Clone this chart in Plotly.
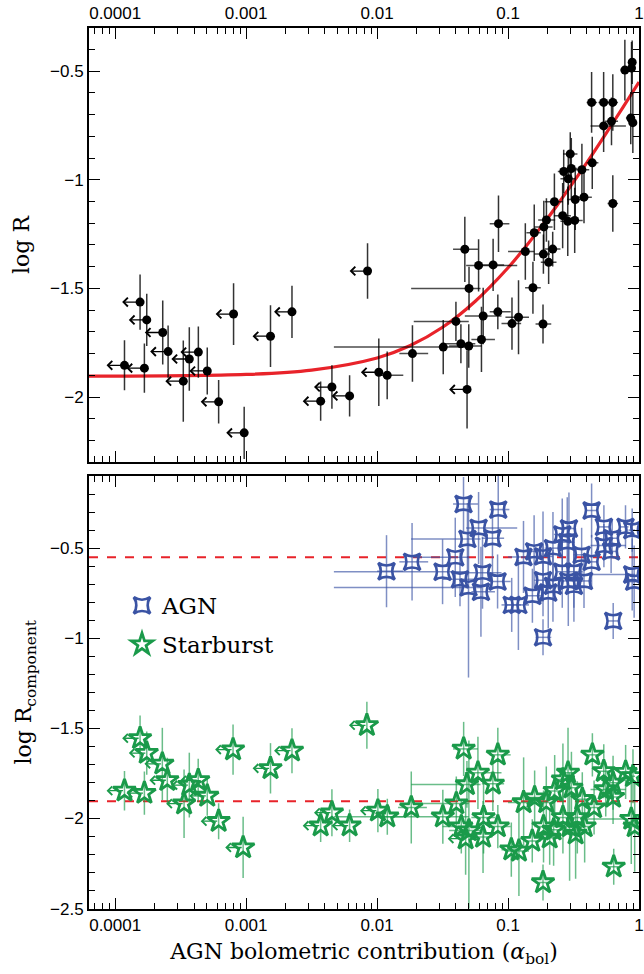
import numpy as np
import plotly.graph_objects as go

# ---------------- data (log10 alpha_bol, log R) ----------------
# Top panel: upper limits on alpha (left arrows)
lim_la = [-3.929, -3.81, -3.759, -3.777, -3.637, -3.596, -3.48, -3.434, -3.365, -3.297,
          -3.21, -3.015, -3.096, -2.814, -2.65, -2.431, -2.345, -2.21, -2.073, -1.987, -1.313]
lim_lr = [-1.854, -1.563, -1.645, -1.867, -1.703, -1.791, -1.927, -1.825, -1.793, -1.88,
          -2.022, -2.165, -1.618, -1.72, -1.608, -2.019, -1.954, -1.995, -1.42, -1.886, -1.965]
lim_ye = [0.115, 0.127, 0.12, 0.113, 0.147, 0.12, 0.187, 0.146, 0.118, 0.108,
          0.1, 0.12, 0.142, 0.142, 0.12, 0.09, 0.1, 0.095, 0.128, 0.155, 0.18]

# Top panel: detections
det_la = [-1.923, -1.73, -1.495, -1.36, -1.30, -1.398, -1.298, -1.33, -1.225, -1.114,
          -1.19, -1.203, -1.078, -0.97, -0.92, -0.81, -0.733, -0.868, -0.80, -0.727,
          -0.707, -0.73, -0.659, -0.69, -0.646, -0.583, -0.544, -0.491, -0.487, -0.42,
          -0.575, -0.54, -0.517, -0.525, -0.436, -0.357, -0.20, -0.362, -0.27, -0.20,
          -0.27, -0.21, -0.063, -0.047, -0.108, -0.057, -0.052, -1.073]
det_lr = [-1.90, -1.80, -1.77, -1.755, -1.765, -1.652, -1.50, -1.32, -1.394, -1.392,
          -1.627, -1.735, -1.608, -1.662, -1.633, -1.497, -1.664, -1.33, -1.244, -1.217,
          -1.185, -1.342, -1.319, -1.38, -1.101, -1.165, -1.191, -1.187, -1.091, -1.08,
          -0.962, -0.995, -0.948, -0.881, -0.954, -0.922, -1.109, -0.644, -0.644, -0.644,
          -0.752, -0.731, -0.716, -0.737, -0.495, -0.486, -0.459, -1.202]
det_xlo = [-1.99, -1.83, -2.33, -1.50, -1.45, -1.72, -1.74, -1.42, -1.32, -1.20,
           -1.33, -1.28, -1.14, -1.05, -1.02, -0.87, -0.79, -1.00, -0.86, -0.80,
           -0.77, -0.80, -0.72, -0.75, -0.72, -0.65, -0.60, -0.55, -0.55, -0.48,
           -0.62, -0.60, -0.57, -0.58, -0.50, -0.40, -0.24, -0.40, -0.31, -0.24,
           -0.37, -0.26, -0.10, -0.08, -0.14, -0.08, -0.07, -1.14]
det_xhi = [-1.80, -1.61, -1.30, -1.25, -1.20, -1.30, -1.21, -1.23, -0.93, -1.03,
           -1.05, -1.10, -0.98, -0.90, -0.84, -0.75, -0.67, -0.80, -0.75, -0.66,
           -0.64, -0.68, -0.60, -0.63, -0.58, -0.52, -0.48, -0.43, -0.43, -0.36,
           -0.53, -0.49, -0.47, -0.47, -0.38, -0.31, -0.16, -0.32, -0.23, -0.16,
           -0.10, -0.16, -0.03, -0.02, -0.08, -0.03, -0.03, -0.99]
det_ye = [0.11, 0.13, 0.125, 0.09, 0.10, 0.09, 0.10, 0.15, 0.12, 0.12,
          0.13, 0.15, 0.08, 0.12, 0.17, 0.12, 0.09, 0.13, 0.13, 0.12,
          0.10, 0.09, 0.08, 0.10, 0.13, 0.15, 0.16, 0.15, 0.14, 0.12,
          0.10, 0.12, 0.14, 0.10, 0.12, 0.12, 0.13, 0.14, 0.14, 0.13,
          0.12, 0.11, 0.12, 0.14, 0.14, 0.12, 0.10, 0.13]

# Fit curve
fit_la = [-4.2, -3.0, -2.5, -2.0, -1.75, -1.5, -1.25, -1.0, -0.875, -0.75,
          -0.625, -0.5, -0.375, -0.25, -0.125, 0.0]
fit_lr = [-1.904, -1.896, -1.876, -1.820, -1.764, -1.679, -1.559, -1.405, -1.315, -1.219,
          -1.117, -1.010, -0.900, -0.785, -0.669, -0.550]

# Bottom panel: AGN component
agn_la = [-1.928, -1.733, -1.50, -1.403, -1.367, -1.302, -1.34, -1.31, -1.225, -1.195,
          -1.207, -1.119, -1.075, -1.08, -0.972, -0.921, -0.882, -0.814, -0.801, -0.733,
          -0.733, -0.733, -0.693, -0.657, -0.657, -0.586, -0.535, -0.548, -0.586, -0.54,
          -0.497, -0.497, -0.438, -0.42, -0.362, -0.362, -0.268, -0.268, -0.205, -0.213,
          -0.197, -0.103, -0.052, -0.052, -0.037]
agn_lr = [-0.628, -0.576, -0.631, -0.551, -0.673, -0.718, -0.255, -0.449, -0.388, -0.636,
          -0.742, -0.445, -0.286, -0.685, -0.815, -0.815, -0.549, -0.764, -0.518, -0.995,
          -0.546, -0.678, -0.746, -0.50, -0.709, -0.424, -0.391, -0.467, -0.631, -0.682,
          -0.709, -0.631, -0.537, -0.682, -0.576, -0.291, -0.382, -0.486, -0.445, -0.518,
          -0.904, -0.382, -0.40, -0.646, -0.686]
agn_ye = [0.20, 0.215, 0.18, 0.22, 0.15, 0.50, 0.15, 0.20, 0.20, 0.20,
          0.25, 0.20, 0.20, 0.15, 0.15, 0.25, 0.20, 0.15, 0.20, 0.10,
          0.25, 0.20, 0.20, 0.20, 0.20, 0.20, 0.20, 0.25, 0.20, 0.25,
          0.20, 0.20, 0.15, 0.15, 0.15, 0.15, 0.12, 0.12, 0.10, 0.12,
          0.10, 0.12, 0.12, 0.20, 0.20]
agn_xlo = [-2.0, -1.83, -2.33, -1.72, -1.50, -2.33, -1.42, -1.74, -1.32, -1.33,
           -1.28, -1.20, -1.14, -1.14, -1.05, -1.02, -1.00, -0.87, -0.86, -0.79,
           -0.80, -0.80, -0.75, -0.72, -0.72, -0.65, -0.60, -0.60, -0.62, -0.60,
           -0.55, -0.55, -0.50, -0.48, -0.40, -0.40, -0.31, -0.37, -0.26, -0.24,
           -0.24, -0.14, -0.08, -0.40, -0.07]
agn_xhi = [-1.80, -1.61, -1.30, -1.30, -1.25, -1.20, -1.23, -1.21, -0.93, -1.05,
           -1.10, -1.03, -0.99, -0.98, -0.90, -0.84, -0.80, -0.75, -0.75, -0.67,
           -0.66, -0.68, -0.63, -0.60, -0.58, -0.52, -0.48, -0.49, -0.53, -0.48,
           -0.43, -0.43, -0.38, -0.36, -0.31, -0.32, -0.23, -0.10, -0.16, -0.16,
           -0.16, -0.08, -0.03, -0.03, -0.02]

# Bottom panel: starburst component, upper limits on alpha
sbl_la = [-3.929, -3.81, -3.759, -3.777, -3.64, -3.602, -3.474, -3.434, -3.366, -3.297,
          -3.21, -3.023, -3.10, -2.814, -2.65, -2.431, -2.345, -2.21, -2.078, -1.994, -1.324]
sbl_lr = [-1.846, -1.555, -1.637, -1.859, -1.697, -1.788, -1.918, -1.815, -1.788, -1.875,
          -2.015, -2.161, -1.618, -1.722, -1.624, -2.04, -1.968, -2.04, -1.483, -1.957, -2.112]
sbl_ye = [0.11, 0.127, 0.12, 0.12, 0.2, 0.125, 0.19, 0.18, 0.12, 0.11,
          0.1, 0.17, 0.14, 0.14, 0.125, 0.09, 0.13, 0.09, 0.13, 0.12, 0.2]

# Bottom panel: starburst component, detections
sb_la = [-1.922, -1.739, -1.498, -1.395, -1.357, -1.339, -1.314, -1.299, -1.23, -1.187,
         -1.191, -1.116, -1.078, -1.078, -0.975, -0.917, -0.881, -0.815, -0.797, -0.733,
         -0.729, -0.708, -0.682, -0.652, -0.644, -0.581, -0.542, -0.516, -0.581, -0.53,
         -0.484, -0.471, -0.415, -0.433, -0.356, -0.343, -0.269, -0.254, -0.198, -0.198,
         -0.193, -0.102, -0.046, -0.059, -0.033]
sb_lr = [-1.99, -1.939, -1.99, -1.917, -2.045, -1.614, -1.811, -2.067, -1.747, -1.994,
         -2.103, -1.808, -1.647, -2.045, -2.173, -2.18, -1.911, -2.125, -1.884, -2.355,
         -2.045, -1.911, -2.107, -2.063, -1.848, -1.784, -1.747, -1.83, -1.994, -2.045,
         -2.085, -1.994, -2.045, -1.893, -1.647, -1.939, -1.738, -1.839, -1.802, -1.881,
         -2.268, -1.742, -1.766, -2.003, -2.045]
sb_ye = [0.10, 0.20, 0.15, 0.15, 0.15, 0.15, 0.13, 0.50, 0.20, 0.20,
         0.20, 0.15, 0.15, 0.12, 0.15, 0.25, 0.25, 0.12, 0.15, 0.10,
         0.20, 0.20, 0.15, 0.20, 0.20, 0.20, 0.25, 0.20, 0.20, 0.30,
         0.25, 0.20, 0.20, 0.15, 0.12, 0.15, 0.15, 0.15, 0.15, 0.15,
         0.10, 0.15, 0.15, 0.25, 0.25]
sb_xlo = [-1.99, -1.84, -2.33, -1.72, -1.50, -1.42, -1.74, -1.45, -1.33, -1.28,
          -1.25, -1.20, -1.14, -1.14, -1.05, -1.02, -1.00, -0.87, -0.86, -0.79,
          -0.80, -0.77, -0.75, -0.72, -0.72, -0.65, -0.60, -0.57, -0.62, -0.60,
          -0.55, -0.55, -0.48, -0.50, -0.40, -0.40, -0.31, -0.37, -0.26, -0.24,
          -0.24, -0.14, -0.08, -0.40, -0.07]
sb_xhi = [-1.80, -1.62, -1.30, -1.30, -1.25, -1.23, -1.21, -1.20, -1.05, -1.10,
          -1.12, -1.03, -0.98, -0.98, -0.90, -0.84, -0.80, -0.75, -0.75, -0.67,
          -0.66, -0.64, -0.63, -0.58, -0.60, -0.52, -0.48, -0.47, -0.53, -0.49,
          -0.43, -0.43, -0.36, -0.38, -0.31, -0.31, -0.23, -0.10, -0.16, -0.16,
          -0.16, -0.08, -0.03, -0.03, -0.02]

# Horizontal reference levels (bottom panel)
ref_agn = -0.55
ref_sb = -1.905

x_tickvals = [1e-4, 1e-3, 1e-2, 1e-1, 1]
x_ticktext = ["0.0001", "0.001", "0.01", "0.1", "1"]

# ---------------- styles ----------------
SERIF = "DejaVu Serif"
SANS = "Liberation Sans"
BLUE = "#3a53a4"
BLUE_E = "rgba(58,83,164,0.65)"
GREEN = "#1a9a4a"
GREEN_E = "rgba(26,154,74,0.65)"
RED = "#e8232a"
W, H = 644, 974
L, R = 89, 3
PX_PER_DEC = (W - L - R) / 4.2


def lin(a):
    return 10 ** np.asarray(a, dtype=float)


def xerrs(la, lo, hi):
    a = lin(la)
    return (lin(hi) - a).tolist(), (a - lin(lo)).tolist()


fig = go.Figure()

# fit curve
fig.add_trace(go.Scatter(x=lin(fit_la), y=fit_lr, mode="lines", line=dict(color=RED, width=3.2, shape="spline"),
                         xaxis="x", yaxis="y", showlegend=False, hoverinfo="skip"))

# top: upper limits
fig.add_trace(go.Scatter(x=lin(lim_la), y=lim_lr, mode="markers",
                         marker=dict(color="black", size=9),
                         error_y=dict(type="data", array=lim_ye, color="rgba(0,0,0,0.8)", thickness=1.5, width=0),
                         xaxis="x", yaxis="y", showlegend=False))
# top: detections
ep, em = xerrs(det_la, det_xlo, det_xhi)
fig.add_trace(go.Scatter(x=lin(det_la), y=det_lr, mode="markers",
                         marker=dict(color="black", size=9),
                         error_y=dict(type="data", array=det_ye, color="rgba(0,0,0,0.8)", thickness=1.5, width=0),
                         error_x=dict(type="data", symmetric=False, array=ep, arrayminus=em,
                                      color="rgba(0,0,0,0.7)", thickness=1.5, width=0),
                         xaxis="x", yaxis="y", showlegend=False))

# bottom: reference dashed lines
for lvl in (ref_agn, ref_sb):
    fig.add_trace(go.Scatter(x=[10 ** -4.2, 1], y=[lvl, lvl], mode="lines",
                             line=dict(color=RED, width=2, dash="dash"),
                             xaxis="x2", yaxis="y2", showlegend=False, hoverinfo="skip"))

# bottom: AGN
ep, em = xerrs(agn_la, agn_xlo, agn_xhi)
fig.add_trace(go.Scatter(x=lin(agn_la), y=agn_lr, mode="markers", name="AGN",
                         marker=dict(symbol="star-square-open", color=BLUE, size=15, line=dict(width=2.8, color=BLUE)),
                         error_y=dict(type="data", array=agn_ye, color=BLUE_E, thickness=1.5, width=0),
                         error_x=dict(type="data", symmetric=False, array=ep, arrayminus=em,
                                      color=BLUE_E, thickness=1.5, width=0),
                         xaxis="x2", yaxis="y2", legendgroup="a"))

# bottom: starburst limits
fig.add_trace(go.Scatter(x=lin(sbl_la), y=sbl_lr, mode="markers",
                         marker=dict(symbol="star-open", color=GREEN, size=17, line=dict(width=2.8, color=GREEN)),
                         error_y=dict(type="data", array=sbl_ye, color=GREEN_E, thickness=1.5, width=0),
                         xaxis="x2", yaxis="y2", showlegend=False))
# bottom: starburst detections
ep, em = xerrs(sb_la, sb_xlo, sb_xhi)
fig.add_trace(go.Scatter(x=lin(sb_la), y=sb_lr, mode="markers", name="Starburst",
                         marker=dict(symbol="star-open", color=GREEN, size=17, line=dict(width=2.8, color=GREEN)),
                         error_y=dict(type="data", array=sb_ye, color=GREEN_E, thickness=1.5, width=0),
                         error_x=dict(type="data", symmetric=False, array=ep, arrayminus=em,
                                      color=GREEN_E, thickness=1.5, width=0),
                         xaxis="x2", yaxis="y2", legendgroup="b"))

# upper-limit arrows
ARROW_PX = 18
annotations = []
for la, lr in zip(lim_la, lim_lr):
    annotations.append(dict(x=la - ARROW_PX / PX_PER_DEC, y=lr, xref="x", yref="y", ax=ARROW_PX, ay=0,
                            text="", showarrow=True, arrowhead=4, arrowsize=1.3, arrowwidth=1.3,
                            arrowcolor="black", standoff=0, startstandoff=0))
for la, lr in zip(sbl_la, sbl_lr):
    annotations.append(dict(x=la - ARROW_PX / PX_PER_DEC, y=lr, xref="x2", yref="y2", ax=ARROW_PX, ay=0,
                            text="", showarrow=True, arrowhead=4, arrowsize=1.3, arrowwidth=1.3,
                            arrowcolor=GREEN, standoff=0, startstandoff=0))

top_dom = [1 - 467 / H, 1 - 28 / H]
bot_dom = [1 - 918 / H, 1 - 481 / H]

TICKFONT = dict(family=SANS, size=17, color="black")
TITLEFONT = dict(family=SERIF, size=22, color="black")

xcommon = dict(type="log", range=[-4.2, 0], showline=True, linecolor="black", linewidth=2,
               mirror="allticks", ticks="inside", ticklen=11, tickwidth=1.3, tickcolor="black",
               tickvals=x_tickvals, ticktext=x_ticktext, showgrid=False, zeroline=False,
               ticklabeloverflow="allow",
               minor=dict(ticks="inside", ticklen=6, tickwidth=1, tickcolor="black", dtick="D1", showgrid=False),
               tickfont=TICKFONT)
ycommon = dict(showline=True, linecolor="black", linewidth=2, mirror="allticks",
               ticks="inside", ticklen=11, tickwidth=1.3, tickcolor="black",
               tick0=0, dtick=0.5, showgrid=False, zeroline=False,
               minor=dict(ticks="inside", ticklen=6, tickwidth=1, tickcolor="black", dtick=0.1, showgrid=False),
               tickfont=TICKFONT)

fig.update_layout(
    width=W, height=H,
    margin=dict(l=L, r=R, t=0, b=0),
    paper_bgcolor="white", plot_bgcolor="white",
    xaxis=dict(**xcommon, domain=[0, 1], anchor="y", side="top"),
    yaxis=dict(**ycommon, domain=top_dom, anchor="x", range=[-2.3, -0.3],
               title=dict(text="log R", font=TITLEFONT, standoff=14)),
    xaxis2=dict(**xcommon, domain=[0, 1], anchor="y2", side="bottom",
                title=dict(text="AGN bolometric contribution (<i>α</i><sub>bol</sub>)",
                           font=TITLEFONT, standoff=10)),
    yaxis2=dict(**ycommon, domain=bot_dom, anchor="x2", range=[-2.5, -0.1],
                title=dict(text="log R<sub>component</sub>", font=TITLEFONT, standoff=12)),
    legend=dict(x=0.06, y=1 - 590 / H, xanchor="left", yanchor="top", bgcolor="rgba(0,0,0,0)",
                font=dict(family=SERIF, size=23, color="black"), tracegroupgap=6, traceorder="grouped"),
    annotations=annotations,
    showlegend=True,
)

fig.write_html("out.html", config={"responsive": False, "displayModeBar": False},
               post_script="document.body.style.margin='0';document.body.style.padding='0';")
